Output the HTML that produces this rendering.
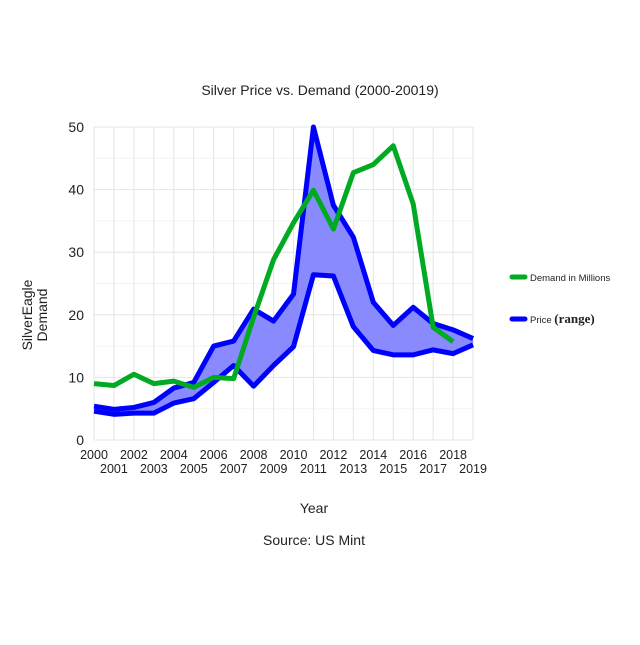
<!DOCTYPE html>
<html><head><meta charset="utf-8"><style>
html,body{margin:0;padding:0;background:#fff;}
svg text{font-family:"Liberation Sans",Arial,sans-serif;}
</style></head><body>
<svg id="s" width="640" height="640" xmlns="http://www.w3.org/2000/svg">
<rect width="640" height="640" fill="#fff"/>
<g id="grid"></g>
<g id="fill"></g>
<g id="lines"></g>
<g id="labels" font-size="14" fill="#222"></g>
<text x="320" y="95" font-size="14" text-anchor="middle" fill="#222">Silver Price vs. Demand (2000-20019)</text>
<text x="314" y="513" font-size="14" text-anchor="middle" fill="#222">Year</text>
<text x="314" y="545" font-size="14" text-anchor="middle" fill="#222">Source: US Mint</text>
<text transform="translate(32,315) rotate(-90)" font-size="14" text-anchor="middle" fill="#222">SilverEagle</text>
<text transform="translate(47,315) rotate(-90)" font-size="14" text-anchor="middle" fill="#222">Demand</text>
<line x1="512" y1="277" x2="525" y2="277" stroke="#00aa22" stroke-width="5" stroke-linecap="round"/>
<text x="530" y="281" font-size="9.5" fill="#222">Demand in Millions</text>
<line x1="512" y1="319" x2="525" y2="319" stroke="#0000ff" stroke-width="5" stroke-linecap="round"/>
<text x="530" y="323" font-size="9.5" fill="#222">Price <tspan font-family="Liberation Serif,serif" font-weight="bold" font-size="13">(range)</tspan></text>
</svg>
<script>
var X=function(i){return 94+i*19.95;},Y=function(v){return 440-v*6.26;};
var up=[5.4,4.9,5.2,6.0,8.3,9.2,15,15.8,20.9,19,23.3,50,37.5,32.4,22,18.3,21.2,18.6,17.6,16.2];
var lo=[4.6,4.1,4.3,4.3,5.9,6.6,9.2,11.9,8.6,11.9,14.9,26.4,26.2,18.1,14.3,13.6,13.6,14.4,13.8,15.2];
var de=[9.0,8.7,10.5,9.0,9.4,8.4,10.0,9.8,19.6,28.8,34.7,39.9,33.7,42.7,44.0,47.0,37.7,18.0,15.7];
var NS="http://www.w3.org/2000/svg";
function el(p,t,a){var e=document.createElementNS(NS,t);for(var k in a)e.setAttribute(k,a[k]);document.getElementById(p).appendChild(e);return e;}
for(var v=0;v<=50;v+=5){el('grid','line',{x1:94,x2:473,y1:Y(v),y2:Y(v),stroke:v%10?'#f3f3f3':'#e4e4e4','stroke-width':1});}
for(var i=0;i<20;i++){el('grid','line',{x1:X(i),x2:X(i),y1:127,y2:440,stroke:'#e4e4e4','stroke-width':1});}
for(var v=0;v<=50;v+=10){var t=el('labels','text',{x:84,y:Y(v)+5,'text-anchor':'end'});t.textContent=v;}
for(var i=0;i<20;i++){var t=el('labels','text',{x:X(i),y:i%2?473:459,'text-anchor':'middle','font-size':12.5});t.textContent=2000+i;}
function pts(a){return a.map(function(v,i){return X(i)+','+Y(v);}).join(' ');}
var poly=pts(up)+' '+lo.map(function(v,i){return [X(i),Y(v)];}).reverse().map(function(p){return p.join(',');}).join(' ');
el('fill','polygon',{points:poly,fill:'#8a8aff'});
el('lines','polyline',{points:pts(up),fill:'none',stroke:'#0000ff','stroke-width':5,'stroke-linejoin':'round'});
el('lines','polyline',{points:pts(lo),fill:'none',stroke:'#0000ff','stroke-width':5,'stroke-linejoin':'round'});
el('lines','polyline',{points:pts(de),fill:'none',stroke:'#00aa22','stroke-width':5,'stroke-linejoin':'round'});
</script>
</body></html>
